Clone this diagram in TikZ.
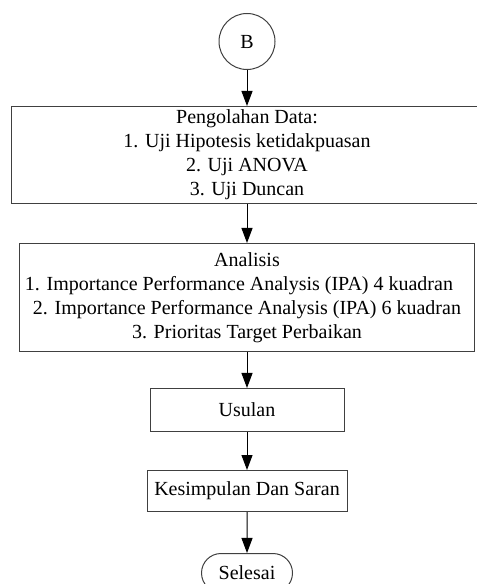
\documentclass[tikz,border=0pt]{standalone}
\usepackage{fontspec}
\setmainfont{Liberation Serif}
\usepackage{tikz}
\usetikzlibrary{positioning, arrows.meta, shapes.misc}

\tikzset{
    flowbox/.style={draw=black!75, line width=0.6pt, rectangle, align=center, inner sep=0pt},
    endbox/.style={draw=black!75, line width=0.6pt, rounded rectangle, inner sep=0pt},
    connbox/.style={draw=black!75, line width=0.6pt, circle, inner sep=0pt, minimum size=33.6pt},
    arr/.style={line width=0.6pt, -{Triangle[length=9pt,width=6.6pt]}}
}

\begin{document}
\begin{tikzpicture}[x=0.6pt, y=-0.6pt, every node/.style={font=\fontsize{12}{14.4}\selectfont}]
    \useasboundingbox (0,0) rectangle (476,584);
    \node[connbox] (B) at (247,41.5) {B};
    \node[flowbox, minimum width=283.2pt, minimum height=58.2pt, below=21.6pt of B] (olah) {Pengolahan Data:\\ 1. Uji Hipotesis ketidakpuasan\\ 2. Uji ANOVA\\ 3. Uji Duncan};
    \node[flowbox, minimum width=273pt, minimum height=64.8pt, below=23.4pt of olah] (analisis) {Analisis\\ 1. Importance Performance Analysis (IPA) 4 kuadran\hspace{9.6pt}\mbox{}\\ 2. Importance Performance Analysis (IPA) 6 kuadran\\ 3. Prioritas Target Perbaikan};
    \node[flowbox, minimum width=116.4pt, minimum height=25.8pt, below=21.6pt of analisis] (usulan) {Usulan};
    \node[flowbox, minimum width=120pt, minimum height=24.6pt, below=22.8pt of usulan] (simpul) {Kesimpulan Dan Saran};
    \node[endbox, minimum width=54.6pt, minimum height=23.4pt, below=24.6pt of simpul] (selesai) {Selesai};
    \foreach \a/\b in {B/olah, olah/analisis, analisis/usulan, usulan/simpul, simpul/selesai} {
        \draw[arr] (\a) -- (\b);
    }
\end{tikzpicture}
\end{document}
